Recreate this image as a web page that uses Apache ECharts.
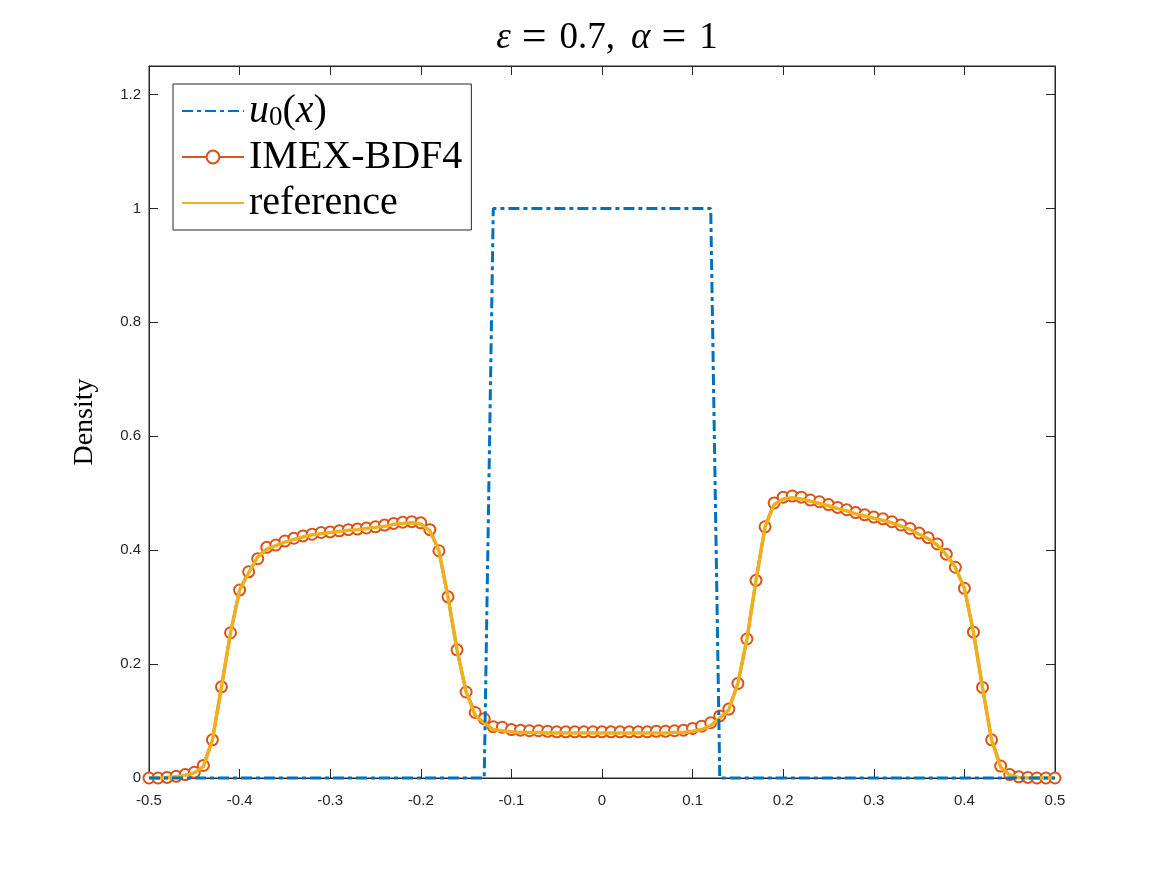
<!DOCTYPE html>
<html>
<head>
<meta charset="utf-8">
<script src="https://cdn.jsdelivr.net/npm/echarts@6/dist/echarts.min.js"></script>
<style>
  html, body { margin: 0; padding: 0; background: #fff; }
  #chart { width: 1167px; height: 875px; }
</style>
</head>
<body>
<div id="chart"></div>
<script>
  // grid points (x)
  const xs = [
    -0.50, -0.49, -0.48, -0.47, -0.46, -0.45, -0.44, -0.43, -0.42, -0.41,
    -0.40, -0.39, -0.38, -0.37, -0.36, -0.35, -0.34, -0.33, -0.32, -0.31,
    -0.30, -0.29, -0.28, -0.27, -0.26, -0.25, -0.24, -0.23, -0.22, -0.21,
    -0.20, -0.19, -0.18, -0.17, -0.16, -0.15, -0.14, -0.13, -0.12, -0.11,
    -0.10, -0.09, -0.08, -0.07, -0.06, -0.05, -0.04, -0.03, -0.02, -0.01,
     0.00,  0.01,  0.02,  0.03,  0.04,  0.05,  0.06,  0.07,  0.08,  0.09,
     0.10,  0.11,  0.12,  0.13,  0.14,  0.15,  0.16,  0.17,  0.18,  0.19,
     0.20,  0.21,  0.22,  0.23,  0.24,  0.25,  0.26,  0.27,  0.28,  0.29,
     0.30,  0.31,  0.32,  0.33,  0.34,  0.35,  0.36,  0.37,  0.38,  0.39,
     0.40,  0.41,  0.42,  0.43,  0.44,  0.45,  0.46,  0.47,  0.48,  0.49,
     0.50
  ];

  // IMEX-BDF4 density
  const imex = [
    0.000, 0.000, 0.001, 0.003, 0.006, 0.010, 0.022, 0.067, 0.160, 0.255,
    0.330, 0.362, 0.385, 0.405, 0.409, 0.416, 0.421, 0.425, 0.428, 0.431,
    0.432, 0.434, 0.436, 0.437, 0.439, 0.441, 0.444, 0.447, 0.449, 0.450,
    0.448, 0.436, 0.399, 0.318, 0.225, 0.151, 0.115, 0.104, 0.090, 0.089,
    0.085, 0.084, 0.083, 0.083, 0.082, 0.081, 0.081, 0.081, 0.081, 0.081,
    0.081, 0.081, 0.081, 0.081, 0.081, 0.081, 0.082, 0.082, 0.083, 0.084,
    0.087, 0.091, 0.097, 0.109, 0.121, 0.166, 0.244, 0.347, 0.441, 0.483,
    0.493, 0.495, 0.493, 0.488, 0.485, 0.480, 0.475, 0.471, 0.466, 0.462,
    0.458, 0.455, 0.450, 0.444, 0.438, 0.430, 0.422, 0.411, 0.393, 0.370,
    0.333, 0.256, 0.159, 0.067, 0.021, 0.006, 0.002, 0.001, 0.000, 0.000,
    0.000
  ];

  // reference solution
  const refSol = [
    0.000, 0.000, 0.001, 0.002, 0.005, 0.009, 0.020, 0.067, 0.160, 0.255,
    0.330, 0.360, 0.388, 0.402, 0.408, 0.414, 0.419, 0.423, 0.427, 0.429,
    0.431, 0.433, 0.435, 0.436, 0.438, 0.440, 0.442, 0.445, 0.447, 0.448,
    0.446, 0.434, 0.399, 0.318, 0.225, 0.151, 0.110, 0.097, 0.085, 0.083,
    0.081, 0.080, 0.080, 0.080, 0.079, 0.079, 0.079, 0.079, 0.079, 0.079,
    0.079, 0.079, 0.079, 0.079, 0.079, 0.079, 0.079, 0.079, 0.080, 0.080,
    0.082, 0.085, 0.092, 0.105, 0.120, 0.166, 0.244, 0.347, 0.441, 0.480,
    0.490, 0.492, 0.490, 0.486, 0.482, 0.478, 0.473, 0.469, 0.464, 0.460,
    0.456, 0.452, 0.448, 0.442, 0.436, 0.428, 0.420, 0.409, 0.392, 0.370,
    0.333, 0.256, 0.159, 0.067, 0.019, 0.005, 0.001, 0.000, 0.000, 0.000,
    0.000
  ];

  // initial data u0(x): breakpoints of the step
  const u0x = [-0.50, -0.13, -0.12, 0.12, 0.13, 0.50];
  const u0y = [0, 0, 1, 1, 0, 0];

  const xTicks = [-0.5, -0.4, -0.3, -0.2, -0.1, 0, 0.1, 0.2, 0.3, 0.4, 0.5];
  const yTicks = [0, 0.2, 0.4, 0.6, 0.8, 1, 1.2];

  const axisColor = '#262626';
  const tickFont = { color: axisColor, fontSize: 15, fontFamily: 'Liberation Sans' };
  const serif = 'Liberation Serif';

  let myChart = echarts.init(document.getElementById('chart'));

  myChart.setOption({
    animation: false,
    color: ['#0072BD', '#D95319', '#EDB120'],
    title: {
      // ε = 0.7, α = 1  (math-style spacing around "=")
      text: '{i|ε}{eq|=}{n|0.7,}{sp|}{i|α}{eq|=}{n|1}',
      left: 602,
      top: 11,
      textAlign: 'center',
      textStyle: {
        fontWeight: 'normal',
        rich: {
          i: { fontFamily: serif, fontStyle: 'italic', fontWeight: 'normal', fontSize: 37, color: '#000' },
          n: { fontFamily: serif, fontWeight: 'normal', fontSize: 37, color: '#000' },
          eq: { fontFamily: serif, fontWeight: 'normal', fontSize: 44, color: '#000', padding: [0, 13, 0, 11] },
          sp: { width: 16 }
        }
      }
    },
    legend: {
      orient: 'vertical',
      left: 173,
      top: 84,
      padding: [7, 9, 7, 8],
      itemGap: 6,
      itemWidth: 62,
      itemHeight: 16,
      backgroundColor: '#fff',
      borderColor: axisColor,
      borderWidth: 1,
      borderRadius: 0,
      data: [
        { name: 'u0', itemStyle: { opacity: 0 } },
        { name: 'IMEX-BDF4' },
        { name: 'reference', itemStyle: { opacity: 0 } }
      ],
      formatter: name => name === 'u0' ? '{i|u}{s|0}{n|(}{i|x}{n|)}' : name,
      textStyle: {
        fontFamily: serif,
        fontSize: 40,
        lineHeight: 40,
        color: '#000',
        rich: {
          i: { fontFamily: serif, fontStyle: 'italic', fontSize: 40, color: '#000' },
          n: { fontFamily: serif, fontSize: 40, color: '#000' },
          s: { fontFamily: serif, fontSize: 27, color: '#000', verticalAlign: 'bottom', padding: [14, 0, 0, 0] }
        }
      }
    },
    grid: {
      left: 149,
      right: 112,
      top: 66,
      bottom: 97,
      show: true,
      borderColor: axisColor,
      borderWidth: 1
    },
    xAxis: [
      {
        type: 'value',
        min: -0.5,
        max: 0.5,
        interval: 0.1,
        axisLine: { show: true, onZero: false, lineStyle: { color: axisColor } },
        axisTick: { inside: true, length: 9, lineStyle: { color: axisColor } },
        axisLabel: { ...tickFont, margin: 15, formatter: v => String(+v.toFixed(2)) },
        splitLine: { show: false }
      },
      {
        type: 'value',
        position: 'top',
        min: -0.5,
        max: 0.5,
        interval: 0.1,
        axisLine: { show: true, onZero: false, lineStyle: { color: axisColor } },
        axisTick: { inside: true, length: 9, lineStyle: { color: axisColor } },
        axisLabel: { show: false },
        splitLine: { show: false }
      }
    ],
    yAxis: [
      {
        type: 'value',
        min: 0,
        max: 1.25,
        interval: 0.2,
        name: 'Density',
        nameLocation: 'middle',
        nameGap: 50,
        nameTextStyle: { fontFamily: serif, fontSize: 28, color: '#000' },
        axisLine: { show: true, onZero: false, lineStyle: { color: axisColor } },
        axisTick: { inside: true, length: 9, lineStyle: { color: axisColor } },
        axisLabel: {
          ...tickFont,
          margin: 8,
          showMaxLabel: false,
          formatter: v => yTicks.includes(+v.toFixed(2)) ? String(+v.toFixed(2)) : ''
        },
        splitLine: { show: false }
      },
      {
        type: 'value',
        position: 'right',
        min: 0,
        max: 1.25,
        interval: 0.2,
        axisLine: { show: true, onZero: false, lineStyle: { color: axisColor } },
        axisTick: { inside: true, length: 9, lineStyle: { color: axisColor } },
        axisLabel: { show: false },
        splitLine: { show: false }
      }
    ],
    series: [
      {
        name: 'u0',
        type: 'line',
        symbol: 'none',
        clip: false,
        z: 4,
        lineStyle: { width: 3, color: '#0072BD', type: [11, 4, 4, 4] },
        data: u0x.map((x, i) => [x, u0y[i]])
      },
      {
        name: 'IMEX-BDF4',
        type: 'line',
        symbol: 'emptyCircle',
        symbolSize: 11,
        clip: false,
        z: 2,
        itemStyle: { color: '#D95319', borderWidth: 3 },
        lineStyle: { width: 3, color: '#D95319' },
        data: xs.map((x, i) => [x, imex[i]])
      },
      {
        name: 'reference',
        type: 'line',
        symbol: 'none',
        clip: false,
        z: 3,
        lineStyle: { width: 3.5, color: '#EDB120' },
        data: xs.map((x, i) => [x, refSol[i]])
      }
    ]
  });
</script>
</body>
</html>
